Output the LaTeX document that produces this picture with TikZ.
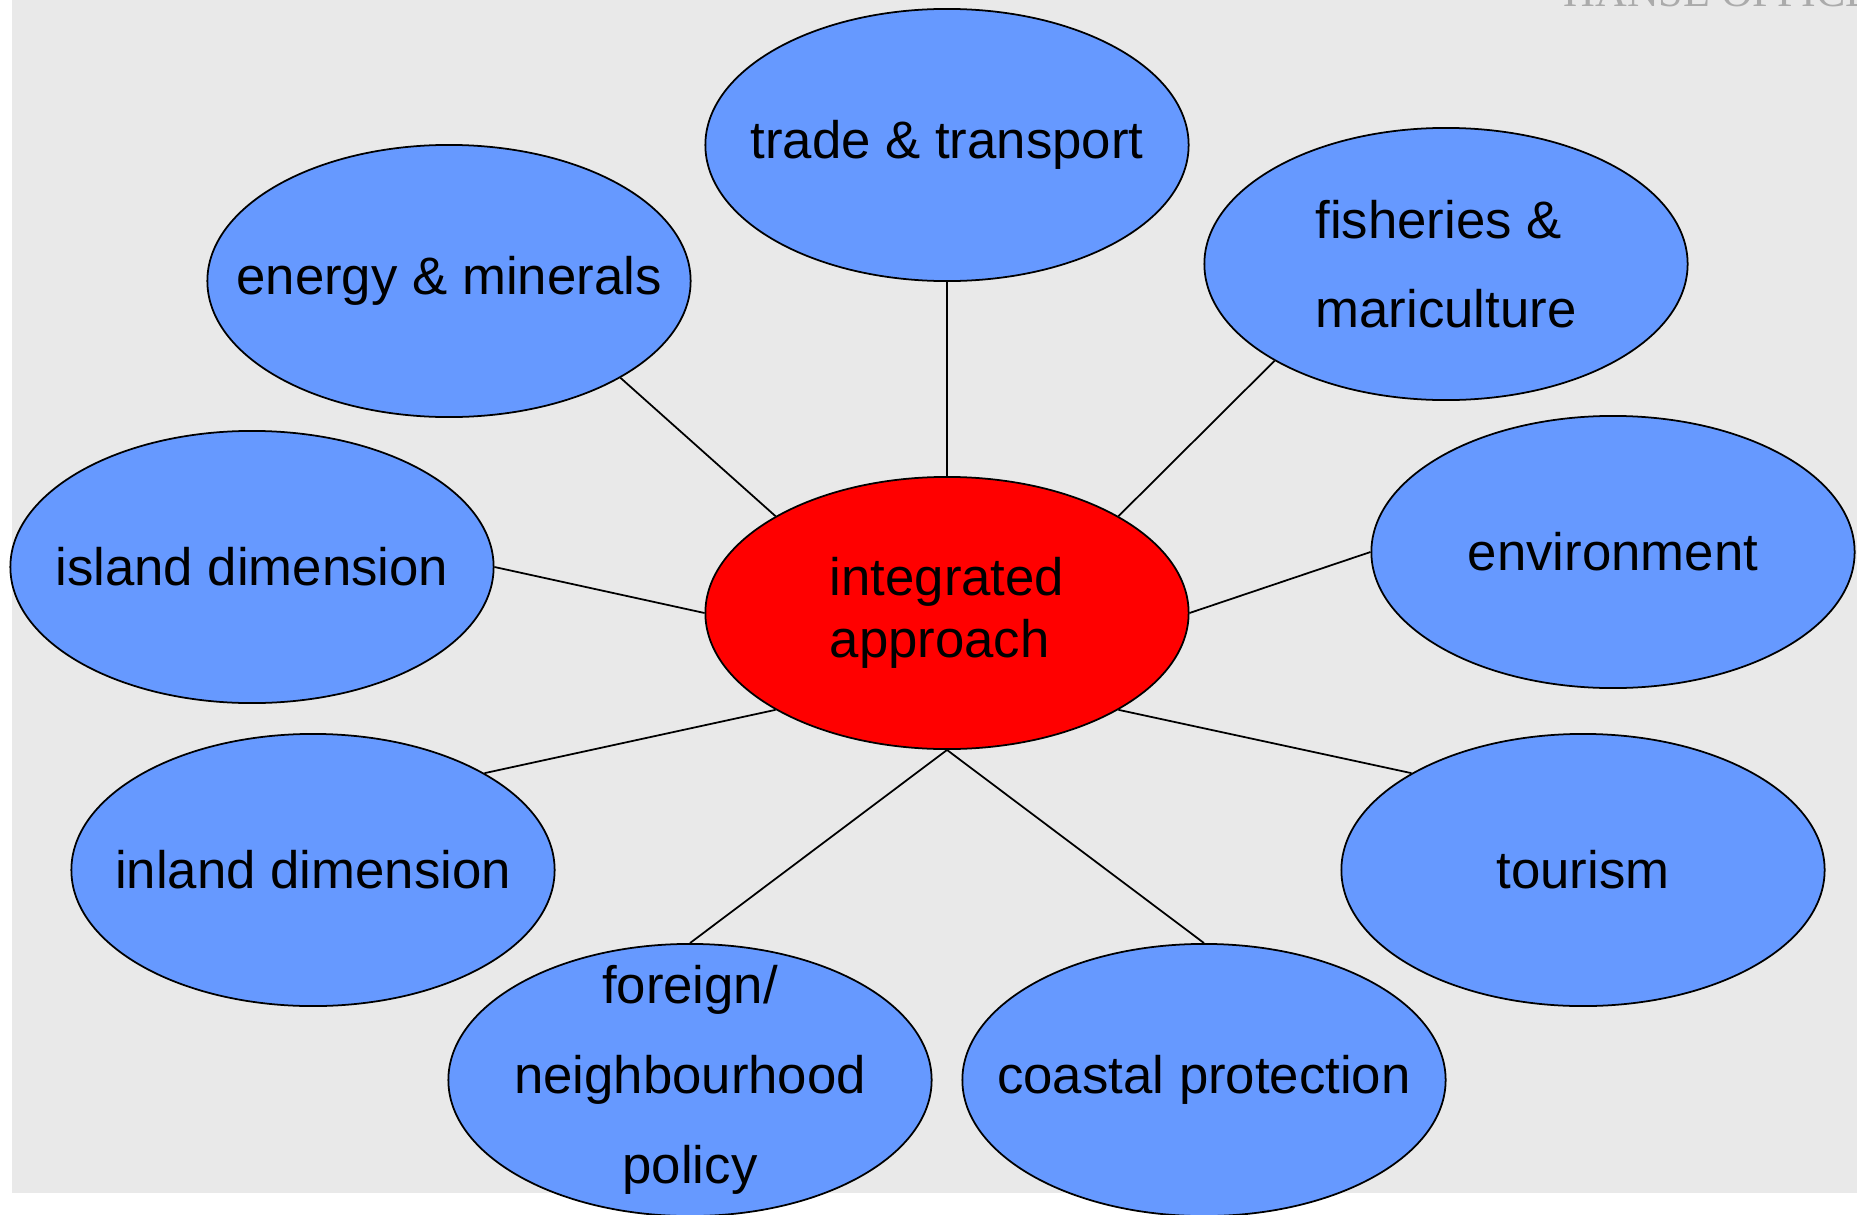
\documentclass[tikz,border=0pt]{standalone}
\usepackage{fontspec}
\setmainfont{Liberation Sans}
\newfontfamily\hansefont{Liberation Serif}
\usetikzlibrary{shapes.geometric}
\definecolor{bubbleblue}{HTML}{6699FF}
\definecolor{panelgray}{HTML}{E9E9E9}

\begin{document}
\begin{tikzpicture}[x=0.01cm, y=-0.01cm,
		bubble/.style={ellipse, draw, line width=0.5pt, fill=bubbleblue,
			minimum width=4.83cm, minimum height=2.72cm,
			inner xsep=-1.5cm, inner ysep=-1cm,
			font=\fontsize{15}{25.5}\selectfont},
		hub/.style={bubble, fill=red, font=\fontsize{15}{17.8}\selectfont}]
			\useasboundingbox (0,0) rectangle (1857,1215);
			\fill[panelgray] (12,0) rectangle (1857,1193);
			\begin{scope}
				\clip (0,0) rectangle (1857,1215);
				\node[anchor=base west, inner sep=0pt, text=black!33,
					font=\hansefont\fontsize{12.5}{12.5}\selectfont] (hanse) at (1563,6) {HANSE OFFICE};
			\end{scope}

			\node[hub, align=left] (hub) at (947,613) {integrated\\approach};

			\node[bubble] (trade) at (947,145) {trade \& transport};
			\node[bubble] (energy) at (449,281) {energy \& minerals};
			\node[bubble, align=left] (fish) at (1446,264) {fisheries \&\\mariculture};
			\node[bubble] (island) at (252,567) {island dimension};
			\node[bubble] (env) at (1613,552) {environment};
			\node[bubble] (inland) at (313,870) {inland dimension};
			\node[bubble] (tourism) at (1583,870) {tourism};
			\node[bubble, align=center] (foreign) at (690,1080) {foreign/\\neighbourhood\\policy};
			\node[bubble] (coast) at (1204,1080) {coastal protection};

			\path[line width=0.5pt]
				(hub.north) edge (trade.south)
				(hub.north west) edge (energy.south east)
				(hub.north east) edge (fish.south west)
				(hub.west) edge (island.east)
				(hub.east) edge (env.west)
				(hub.south west) edge (inland.north east)
				(hub.south east) edge (tourism.north west)
				(hub.south) edge (foreign.north)
				(hub.south) edge (coast.north)
			;
		\end{tikzpicture}
\end{document}
